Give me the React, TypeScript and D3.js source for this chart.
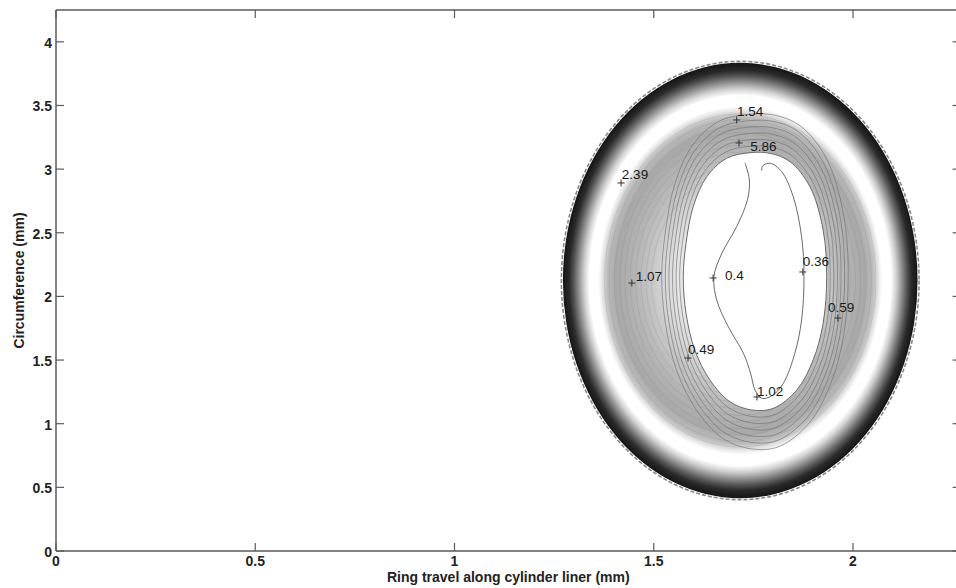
import * as d3 from "d3";

const W = 956;
const H = 588;

const xTicks = [0, 0.5, 1, 1.5, 2];
const yTicks = [0, 0.5, 1, 1.5, 2, 2.5, 3, 3.5, 4];
const xDomain = [0, 2.27];
const yDomain = [0, 4.25];

// outer edge of the contoured patch (mm)
const outerCenter = [1.717, 2.125];
const outerRadii = [0.445, 1.71];

// radial shading of the patch, 0 = centre, 1 = outer edge
const shadeOffsets = [0, 0.3, 0.4, 0.5, 0.6, 0.7, 0.75, 0.78, 0.8, 0.85, 0.88, 0.91, 0.94, 0.965, 1];
const shadeGreys = [
  "#ffffff", "#f0f0f0", "#dcdcdc", "#c6c6c6", "#b4b4b4", "#a8a8a8", "#bcbcbc", "#e6e6e6",
  "#ffffff", "#ffffff", "#d0d0d0", "#929292", "#555555", "#2a2a2a", "#151515",
];

// faint iso-lines that texture the grey band (relative to the outer edge)
const bandScales = [0.5, 0.53, 0.56, 0.59, 0.62, 0.65, 0.68, 0.71, 0.74, 0.765];

// innermost closed contour (mm)
const innerOval: [number, number][] = [
  [1.7415, 3.129], [1.683, 3.085], [1.633, 2.94], [1.599, 2.705], [1.581, 2.417],
  [1.574, 2.155], [1.581, 1.867], [1.603, 1.579], [1.641, 1.343], [1.691, 1.173],
  [1.746, 1.108], [1.8, 1.121], [1.859, 1.265], [1.9, 1.5], [1.925, 1.789],
  [1.934, 2.155], [1.925, 2.522], [1.892, 2.862], [1.842, 3.058], [1.792, 3.124],
];
const ovalCenter = [1.754, 2.125];

// crescent shaped contour inside it
const crescent: [number, number][] = [
  [1.729, 3.05], [1.74, 2.914], [1.735, 2.757], [1.708, 2.548], [1.671, 2.339],
  [1.651, 2.155], [1.658, 1.972], [1.687, 1.762], [1.725, 1.553], [1.743, 1.396],
  [1.754, 1.265], [1.771, 1.2], [1.796, 1.218], [1.825, 1.317], [1.854, 1.553],
  [1.871, 1.815], [1.877, 2.155], [1.871, 2.469], [1.85, 2.783], [1.821, 2.98],
  [1.792, 3.046], [1.773, 3.024], [1.771, 2.987],
];

// contour lines packed around the inner oval (size relative to it)
const ringScales = [1.05, 1.1, 1.15, 1.2, 1.25, 1.3];

// contour labels: text, "+" mark, text anchor (mm)
const labelText = ["1.54", "5.86", "2.39", "1.07", "0.4", "0.36", "0.59", "0.49", "1.02"];
const labelMarks: [number, number][] = [
  [1.708, 3.386], [1.714, 3.205], [1.418, 2.891], [1.445, 2.105], [1.649, 2.145],
  [1.874, 2.192], [1.962, 1.83], [1.586, 1.516], [1.759, 1.21],
];
const labelPos: [number, number][] = [
  [1.709, 3.417], [1.742, 3.142], [1.42, 2.926], [1.455, 2.121], [1.679, 2.129],
  [1.874, 2.239], [1.937, 1.874], [1.586, 1.544], [1.759, 1.218],
];

const FONT = "Arial, 'Liberation Sans', Helvetica, sans-serif";

export default function App() {
  const x = d3.scaleLinear().domain(xDomain).range([56, 960.6]);
  const y = d3.scaleLinear().domain(yDomain).range([551, 10]);

  const closed = d3
    .line<[number, number]>()
    .x((d) => x(d[0]))
    .y((d) => y(d[1]))
    .curve(d3.curveCatmullRomClosed.alpha(0.5));
  const open = d3
    .line<[number, number]>()
    .x((d) => x(d[0]))
    .y((d) => y(d[1]))
    .curve(d3.curveCatmullRom.alpha(0.5));

  const scaled = (k: number) =>
    innerOval.map(
      (p) =>
        [ovalCenter[0] + (p[0] - ovalCenter[0]) * k, ovalCenter[1] + (p[1] - ovalCenter[1]) * k] as [number, number]
    );

  const cx = x(outerCenter[0]);
  const cy = y(outerCenter[1]);
  const rx = x(outerCenter[0] + outerRadii[0]) - cx;
  const ry = cy - y(outerCenter[1] + outerRadii[1]);

  const left = x(xDomain[0]);
  const right = x(xDomain[1]);
  const top = y(yDomain[1]);
  const bottom = y(yDomain[0]);
  const tick = 8;
  const axisColor = "#5a5a5a";

  return (
    <svg
      width={W}
      height={H}
      style={{ position: "absolute", left: 0, top: 0, background: "#fff" }}
      fontFamily={FONT}
    >
      <defs>
        <radialGradient id="shade" cx="0.5" cy="0.5" r="0.5">
          {shadeOffsets.map((o, i) => (
            <stop key={i} offset={o} stopColor={shadeGreys[i]} />
          ))}
        </radialGradient>
      </defs>
      <rect width={W} height={H} fill="#fff" />

      {/* contoured patch */}
      <ellipse
        cx={cx}
        cy={cy}
        rx={rx + 1.5}
        ry={ry + 1.5}
        fill="none"
        stroke="#8a8a8a"
        strokeWidth={1.6}
        strokeDasharray="4 2"
      />
      <ellipse cx={cx} cy={cy} rx={rx} ry={ry} fill="url(#shade)" />
      {bandScales.map((k) => (
        <ellipse
          key={k}
          cx={cx}
          cy={cy}
          rx={rx * k}
          ry={ry * k}
          fill="none"
          stroke="#6a6a6a"
          strokeOpacity={0.2}
          strokeWidth={0.8}
        />
      ))}
      {ringScales
        .slice()
        .reverse()
        .map((k) => (
          <path
            key={k}
            d={closed(scaled(k)) || ""}
            fill="none"
            stroke="#707070"
            strokeOpacity={0.7}
            strokeWidth={0.9}
          />
        ))}
      <path d={closed(innerOval) || ""} fill="#fff" stroke="#6a6a6a" strokeWidth={1} />
      <path d={open(crescent) || ""} fill="none" stroke="#6a6a6a" strokeWidth={1} />

      {/* contour labels */}
      {labelText.map((t, i) => (
        <g key={t}>
          <path
            d={`M${x(labelMarks[i][0]) - 3.5},${y(labelMarks[i][1])}h7M${x(labelMarks[i][0])},${
              y(labelMarks[i][1]) - 3.5
            }v7`}
            stroke="#333"
            strokeWidth={1}
          />
          <text x={x(labelPos[i][0])} y={y(labelPos[i][1])} fontSize={13.5} fill="#1a1a1a">
            {t}
          </text>
        </g>
      ))}

      {/* frame */}
      <g stroke={axisColor} strokeWidth={1.5} fill="none">
        <line x1={left} x2={right} y1={top} y2={top} />
        <line x1={left} x2={right} y1={bottom} y2={bottom} />
        <line x1={left} x2={left} y1={top} y2={bottom} />
        <line x1={right} x2={right} y1={top} y2={bottom} />
      </g>
      <g stroke={axisColor} strokeWidth={1.2}>
        {xTicks.map((t) => (
          <g key={t}>
            <line x1={x(t)} x2={x(t)} y1={bottom} y2={bottom - tick} />
            <line x1={x(t)} x2={x(t)} y1={top} y2={top + tick} />
          </g>
        ))}
        {yTicks.map((t) => (
          <g key={t}>
            <line x1={left} x2={left + tick} y1={y(t)} y2={y(t)} />
            <line x1={right} x2={right - tick} y1={y(t)} y2={y(t)} />
          </g>
        ))}
      </g>

      {/* tick labels */}
      <g fontSize={14} fontWeight="bold" fill="#222">
        {xTicks.map((t) => (
          <text key={t} x={x(t)} y={bottom + 15} textAnchor="middle">
            {t}
          </text>
        ))}
        {yTicks.map((t) => (
          <text key={t} x={left - 4} y={y(t) + 6} textAnchor="end">
            {t}
          </text>
        ))}
      </g>

      {/* axis titles */}
      <text
        x={(left + right) / 2}
        y={582}
        textAnchor="middle"
        fontSize={14}
        fontWeight="bold"
        fill="#222"
      >
        Ring travel along cylinder liner (mm)
      </text>
      <text
        transform={`translate(24,${(top + bottom) / 2}) rotate(-90)`}
        textAnchor="middle"
        fontSize={14}
        fontWeight="bold"
        fill="#222"
      >
        Circumference (mm)
      </text>
    </svg>
  );
}
